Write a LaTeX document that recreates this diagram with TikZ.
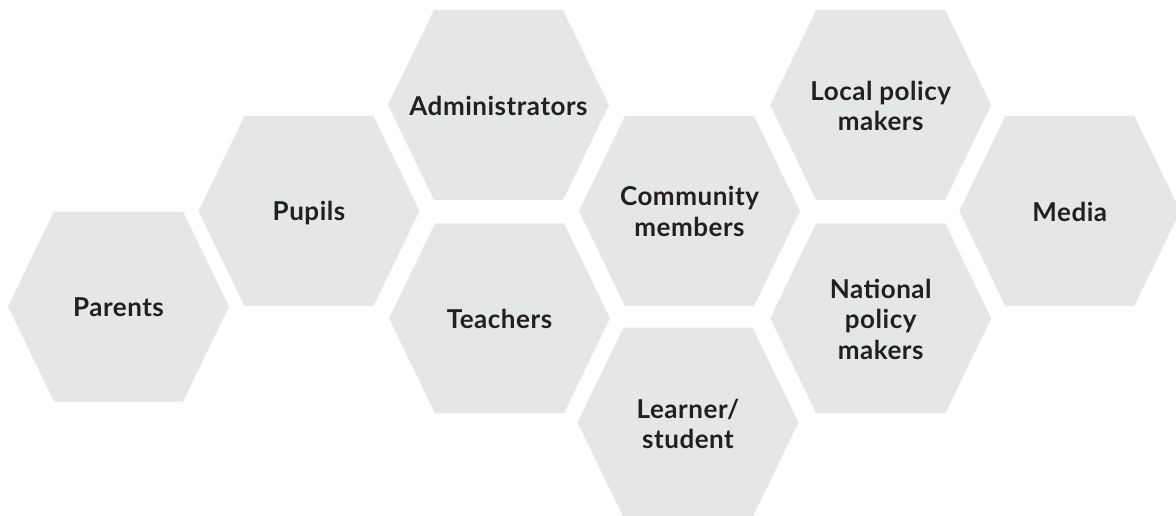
\documentclass[tikz,border=0pt]{standalone}
\usepackage{fontspec}
\setmainfont[LetterSpace=2]{Lato}
\definecolor{hexfill}{HTML}{E5E6E8}
\definecolor{hextext}{HTML}{231F20}
\tikzset{
  hexlabel/.style={text=hextext, align=center, font=\fontsize{26}{30.5}\selectfont\bfseries, inner sep=0pt},
}
\newcommand{\hexagon}[2]{%
  \fill[hexfill] (#1-110.5,#2) -- (#1-64.5,#2-95) -- (#1+64.5,#2-95) -- (#1+110.5,#2) -- (#1+64.5,#2+95) -- (#1-64.5,#2+95) -- cycle;}
\begin{document}
\begin{tikzpicture}[x=1pt,y=-1pt]
\useasboundingbox (0,0) rectangle (1176,516);
\hexagon{118.5}{306.5}
\hexagon{309}{211}
\hexagon{498.5}{105}
\hexagon{499.5}{318.3}
\hexagon{689.5}{211}
\hexagon{688}{422.5}
\hexagon{880.7}{105}
\hexagon{880.7}{318.3}
\hexagon{1069.8}{211}
\node[hexlabel] (parents) at (118.5,307.5) {Parents};
\node[hexlabel, text depth=0pt] (pupils) at (309,211) {Pupils};
\node[hexlabel] (admin) at (498.5,105.5) {Administrators};
\node[hexlabel] (teachers) at (499.5,318.5) {Teachers};
\node[hexlabel] (community) at (689.5,211.5) {Community\\members};
\node[hexlabel] (learner) at (688,424) {Learner/\\student};
\node[hexlabel] (local) at (880.7,106) {Local policy\\makers};
\node[hexlabel] (national) at (880.7,319) {National\\policy\\makers};
\node[hexlabel] (media) at (1069.8,211.5) {Media};
\end{tikzpicture}
\end{document}
